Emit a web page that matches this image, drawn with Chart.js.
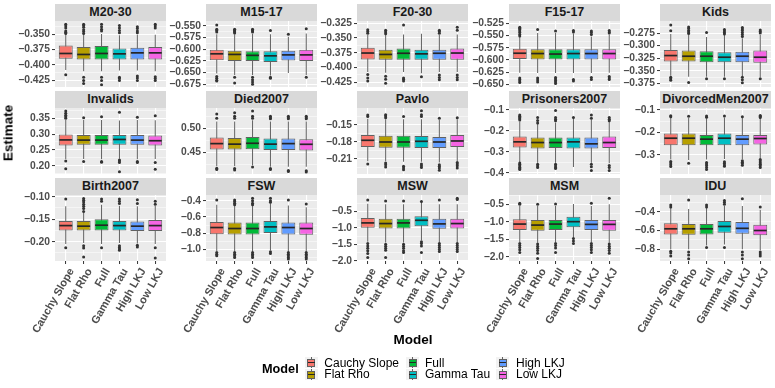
<!DOCTYPE html>
<html>
<head>
<meta charset="utf-8">
<script src="https://cdn.jsdelivr.net/npm/chart.js@4.4.0/dist/chart.umd.min.js"></script>
<style>
  body { margin: 0; background: #fff; width: 775px; height: 388px; position: relative; overflow: hidden; font-family: "Liberation Sans", Arial, sans-serif; }
  .strip { position: absolute; height: 17px; line-height: 17px; background: #D9D9D9; color: #1A1A1A; font-weight: bold; font-size: 12.5px; text-align: center; white-space: nowrap; }
  canvas { position: absolute; }
  .title { position: absolute; font-weight: bold; font-size: 13.5px; color: #000; white-space: nowrap; }
  .lg-text { position: absolute; font-size: 12px; color: #000; white-space: nowrap; line-height: 12px; }
  .key { position: absolute; width: 13px; height: 11.6px; background: #F2F2F2; }
</style>
</head>
<body>
<script>
const models = ['Cauchy Slope', 'Flat Rho', 'Full', 'Gamma Tau', 'High LKJ', 'Low LKJ'];
const colors = ['#F8766D', '#B79F00', '#00BA38', '#00BFC4', '#619CFF', '#F564E3'];
const panels = ['M20-30', 'M15-17', 'F20-30', 'F15-17', 'Kids',
  'Invalids', 'Died2007', 'Pavlo', 'Prisoners2007', 'DivorcedMen2007',
  'Birth2007', 'FSW', 'MSW', 'MSM', 'IDU'];

// y axis per panel
const yMin = [-0.4357, -0.6807, -0.4333, -0.6554, -0.3823, 0.1737, 0.4048, -0.2365, -0.4062, -0.3844, -0.2429, -1.144, -2.01, -2.123, -0.9245];
const yMax = [-0.3288, -0.5395, -0.3212, -0.5204, -0.2509, 0.3826, 0.5423, -0.12, -0.0905, -0.0911, -0.0962, -0.3296, 0.0, -0.234, -0.2223];
const yTicks = [
  [-0.425, -0.4, -0.375, -0.35],
  [-0.675, -0.65, -0.625, -0.6, -0.575, -0.55],
  [-0.425, -0.4, -0.375, -0.35, -0.325],
  [-0.65, -0.625, -0.6, -0.575, -0.55, -0.525],
  [-0.375, -0.35, -0.325, -0.3, -0.275],
  [0.2, 0.25, 0.3, 0.35],
  [0.45, 0.5],
  [-0.21, -0.18, -0.15],
  [-0.4, -0.3, -0.2, -0.1],
  [-0.3, -0.2, -0.1],
  [-0.2, -0.15, -0.1],
  [-1.0, -0.8, -0.6, -0.4],
  [-2.0, -1.5, -1.0, -0.5],
  [-2.0, -1.5, -1.0, -0.5],
  [-0.8, -0.6, -0.4]
];
const yDigits = [3, 3, 3, 3, 3, 2, 2, 2, 1, 1, 2, 1, 1, 1, 1];

// box statistics per panel, one value per model
const whiskerLow = [
  [-0.408, -0.410, -0.410, -0.409, -0.409, -0.410],
  [-0.652, -0.655, -0.655, -0.656, -0.651, -0.655],
  [-0.408, -0.409, -0.408, -0.410, -0.408, -0.408],
  [-0.626, -0.627, -0.627, -0.627, -0.627, -0.626],
  [-0.360, -0.362, -0.362, -0.362, -0.361, -0.363],
  [0.221, 0.221, 0.220, 0.222, 0.220, 0.221],
  [0.421, 0.421, 0.423, 0.420, 0.420, 0.420],
  [-0.214, -0.214, -0.215, -0.215, -0.216, -0.214],
  [-0.350, -0.352, -0.352, -0.373, -0.352, -0.355],
  [-0.320, -0.322, -0.320, -0.318, -0.318, -0.316],
  [-0.205, -0.203, -0.205, -0.203, -0.204, -0.205],
  [-1.02, -1.03, -1.03, -1.01, -1.03, -1.03],
  [-1.42, -1.45, -1.45, -1.38, -1.45, -1.45],
  [-1.58, -1.60, -1.58, -1.45, -1.58, -1.60],
  [-0.80, -0.80, -0.76, -0.75, -0.80, -0.81]
];
const boxLow = [
  [-0.390, -0.391, -0.391, -0.391, -0.391, -0.391],
  [-0.6235, -0.625, -0.625, -0.627, -0.624, -0.625],
  [-0.3867, -0.387, -0.387, -0.387, -0.387, -0.387],
  [-0.598, -0.599, -0.599, -0.599, -0.599, -0.599],
  [-0.3315, -0.3315, -0.333, -0.333, -0.333, -0.334],
  [0.2642, 0.266, 0.266, 0.266, 0.266, 0.2642],
  [0.4556, 0.4556, 0.4563, 0.4548, 0.4548, 0.4538],
  [-0.1888, -0.19, -0.19, -0.1905, -0.1905, -0.1888],
  [-0.279, -0.284, -0.282, -0.284, -0.284, -0.2819],
  [-0.2564, -0.2564, -0.2564, -0.2564, -0.2564, -0.2535],
  [-0.1753, -0.1753, -0.1753, -0.1753, -0.1762, -0.1762],
  [-0.8136, -0.8173, -0.8173, -0.797, -0.8173, -0.821],
  [-1.0, -1.02, -1.02, -0.95, -1.03, -1.02],
  [-1.237, -1.26, -1.237, -1.157, -1.237, -1.26],
  [-0.6426, -0.646, -0.6426, -0.625, -0.635, -0.65]
];
const medians = [
  [-0.3814, -0.383, -0.3814, -0.382, -0.3804, -0.3804],
  [-0.6097, -0.611, -0.613, -0.614, -0.612, -0.612],
  [-0.3756, -0.378, -0.376, -0.377, -0.376, -0.3756],
  [-0.5863, -0.587, -0.588, -0.587, -0.587, -0.587],
  [-0.3197, -0.321, -0.321, -0.323, -0.321, -0.323],
  [0.2816, 0.281, 0.281, 0.283, 0.281, 0.279],
  [0.4681, 0.467, 0.4688, 0.467, 0.4681, 0.4667],
  [-0.177, -0.18, -0.18, -0.1788, -0.18, -0.1782],
  [-0.2524, -0.2557, -0.2557, -0.2524, -0.2619, -0.2557],
  [-0.2253, -0.2253, -0.2296, -0.2253, -0.2296, -0.2267],
  [-0.1642, -0.1655, -0.1633, -0.1642, -0.1655, -0.1642],
  [-0.731, -0.7432, -0.7432, -0.723, -0.731, -0.7432],
  [-0.85, -0.87, -0.85, -0.77, -0.88, -0.87],
  [-1.066, -1.095, -1.066, -0.997, -1.075, -1.075],
  [-0.582, -0.582, -0.582, -0.557, -0.577, -0.60]
];
const boxHigh = [
  [-0.3686, -0.3709, -0.3693, -0.3735, -0.372, -0.3709],
  [-0.601, -0.603, -0.604, -0.604, -0.603, -0.601],
  [-0.3667, -0.370, -0.368, -0.370, -0.370, -0.368],
  [-0.577, -0.578, -0.578, -0.578, -0.578, -0.578],
  [-0.3084, -0.3097, -0.311, -0.313, -0.312, -0.3097],
  [0.2987, 0.297, 0.297, 0.297, 0.297, 0.2957],
  [0.4806, 0.48, 0.482, 0.4785, 0.4785, 0.4773],
  [-0.1676, -0.169, -0.169, -0.1694, -0.171, -0.1676],
  [-0.2267, -0.2314, -0.2314, -0.2314, -0.2314, -0.2267],
  [-0.2044, -0.2044, -0.2111, -0.2044, -0.2111, -0.2111],
  [-0.1538, -0.1538, -0.15, -0.1538, -0.1552, -0.1515],
  [-0.6617, -0.67, -0.67, -0.65, -0.67, -0.67],
  [-0.70, -0.72, -0.72, -0.65, -0.72, -0.72],
  [-0.93, -0.95, -0.95, -0.855, -0.95, -0.95],
  [-0.523, -0.53, -0.53, -0.50, -0.51, -0.54]
];
const whiskerHigh = [
  [-0.351, -0.351, -0.350, -0.352, -0.351, -0.351],
  [-0.568, -0.568, -0.567, -0.568, -0.573, -0.566],
  [-0.345, -0.345, -0.344, -0.343, -0.345, -0.344],
  [-0.553, -0.545, -0.545, -0.546, -0.552, -0.548],
  [-0.277, -0.278, -0.283, -0.279, -0.285, -0.279],
  [0.345, 0.345, 0.345, 0.343, 0.345, 0.344],
  [0.514, 0.514, 0.517, 0.514, 0.514, 0.514],
  [-0.139, -0.140, -0.140, -0.140, -0.141, -0.140],
  [-0.155, -0.165, -0.160, -0.140, -0.145, -0.158],
  [-0.135, -0.135, -0.137, -0.133, -0.136, -0.136],
  [-0.121, -0.136, -0.118, -0.120, -0.121, -0.120],
  [-0.45, -0.46, -0.46, -0.43, -0.46, -0.48],
  [-0.27, -0.28, -0.28, -0.22, -0.28, -0.28],
  [-0.55, -0.55, -0.55, -0.49, -0.55, -0.50],
  [-0.36, -0.37, -0.36, -0.34, -0.34, -0.38]
];
const outliers = [
  [[-0.334, -0.337, -0.340, -0.345, -0.347, -0.349, -0.416],
   [-0.334, -0.336, -0.339, -0.343, -0.346, -0.349, -0.420, -0.425, -0.430],
   [-0.334, -0.338, -0.342, -0.345, -0.420, -0.425, -0.432],
   [-0.336, -0.340, -0.344, -0.348, -0.420, -0.422, -0.425],
   [-0.338, -0.341, -0.345, -0.348, -0.418, -0.421, -0.425],
   [-0.334, -0.337, -0.340, -0.419, -0.422, -0.425]],
  [[-0.548, -0.557, -0.560, -0.563, -0.658, -0.662, -0.666, -0.668],
   [-0.557, -0.559, -0.561, -0.563, -0.565, -0.660, -0.672],
   [-0.557, -0.559, -0.561, -0.563, -0.660, -0.665, -0.670, -0.675],
   [-0.560, -0.660, -0.662],
   [-0.568],
   [-0.556, -0.660]],
  [[-0.336, -0.339, -0.342, -0.412, -0.418, -0.423],
   [-0.337, -0.340, -0.343, -0.415, -0.420, -0.427],
   [-0.328, -0.418, -0.420, -0.423],
   [-0.416],
   [-0.337, -0.339, -0.342, -0.413, -0.417, -0.421],
   [-0.332, -0.337, -0.413, -0.417, -0.421]],
  [[-0.533, -0.535, -0.538, -0.541, -0.544, -0.548, -0.551, -0.637, -0.640, -0.643, -0.646],
   [-0.538, -0.637, -0.641, -0.645],
   [-0.541, -0.636, -0.639, -0.642, -0.645, -0.648],
   [-0.540, -0.543, -0.640, -0.643],
   [-0.541, -0.544, -0.548, -0.636, -0.640],
   [-0.540, -0.543, -0.545, -0.634, -0.637, -0.640]],
  [[-0.259, -0.2705, -0.363, -0.366, -0.369],
   [-0.263, -0.266, -0.270, -0.273, -0.276, -0.3735],
   [-0.274, -0.366],
   [-0.268, -0.271, -0.274, -0.277, -0.366],
   [-0.264, -0.267, -0.270, -0.274, -0.278, -0.282, -0.363, -0.368, -0.374],
   [-0.269, -0.272, -0.275, -0.366]],
  [[0.350, 0.355, 0.360, 0.366, 0.373, 0.2146, 0.1905],
   [0.352, 0.213],
   [0.355, 0.213, 0.211],
   [0.369, 0.218, 0.215, 0.210, 0.181],
   [0.353, 0.213, 0.210],
   [0.358, 0.210, 0.189]],
  [[0.5298, 0.521, 0.4167, 0.414],
   [0.5325, 0.525, 0.521, 0.416, 0.413],
   [0.536, 0.525, 0.521, 0.4194],
   [0.525, 0.522, 0.520, 0.416, 0.414],
   [0.525, 0.522, 0.520, 0.412, 0.410],
   [0.525, 0.522, 0.520, 0.4115, 0.409]],
  [[-0.1324, -0.135, -0.2188],
   [-0.132, -0.134, -0.137, -0.217, -0.220, -0.224],
   [-0.135, -0.223, -0.226, -0.229],
   [-0.125, -0.132, -0.135, -0.219, -0.222, -0.225],
   [-0.138, -0.220, -0.223, -0.226, -0.230],
   [-0.137, -0.216, -0.219, -0.222, -0.226]],
  [[-0.124, -0.130, -0.136, -0.142, -0.148, -0.353, -0.360, -0.367, -0.374, -0.380, -0.385],
   [-0.136, -0.150, -0.162, -0.360, -0.368, -0.375],
   [-0.103, -0.136, -0.144, -0.152, -0.360, -0.368, -0.375, -0.380],
   [-0.136],
   [-0.124, -0.140, -0.360, -0.372, -0.390],
   [-0.136, -0.144, -0.152, -0.365, -0.375, -0.390]],
  [[-0.125, -0.1297, -0.329, -0.336, -0.343, -0.351],
   [-0.128, -0.337],
   [-0.127, -0.132, -0.333, -0.340, -0.347, -0.355, -0.364],
   [-0.127, -0.330, -0.337, -0.344, -0.350],
   [-0.130, -0.325, -0.332, -0.338, -0.345],
   [-0.124, -0.128, -0.133, -0.320, -0.327, -0.334, -0.341, -0.348, -0.355]],
  [[-0.105, -0.2133],
   [-0.104, -0.108, -0.112, -0.117, -0.121, -0.126, -0.133, -0.209, -0.214, -0.234],
   [-0.105, -0.110, -0.2133],
   [-0.105, -0.110, -0.115, -0.209, -0.213, -0.216, -0.219],
   [-0.107, -0.115, -0.208, -0.212],
   [-0.110, -0.117, -0.2133, -0.236]],
  [[-0.391, -1.04, -1.06, -1.08],
   [-0.39, -0.41, -0.43, -0.45, -1.04, -1.06, -1.08, -1.10],
   [-0.37, -0.40, -0.43, -0.45, -1.04, -1.06, -1.08, -1.10],
   [-0.37, -0.40, -0.42, -1.03, -1.05],
   [-0.39, -1.04, -1.06, -1.08, -1.10, -1.12],
   [-0.44, -1.04, -1.06, -1.08, -1.10, -1.12]],
  [[-0.15, -1.48, -1.55, -1.62, -1.70, -1.78, -1.90],
   [-0.18, -1.50, -1.56, -1.62, -1.68, -1.90],
   [-0.18, -1.50, -1.56, -1.62, -1.70, -1.75],
   [-0.20, -1.42, -1.48, -1.55, -1.75],
   [-0.15, -1.48, -1.54, -1.60, -1.66, -1.72],
   [-0.10, -0.14, -1.48, -1.54, -1.60, -1.66, -1.72]],
  [[-0.47, -0.50, -1.62, -1.68, -1.74, -1.80, -1.88],
   [-0.50, -1.64, -1.70, -1.76, -1.82, -1.90, -2.05],
   [-0.49, -1.62, -1.68, -1.75, -1.88],
   [-1.48, -1.55, -1.62],
   [-0.47, -1.62, -1.68, -1.74, -1.80, -1.88],
   [-0.33, -1.64, -1.70, -1.76, -1.82, -1.90]],
  [[-0.33, -0.35, -0.82, -0.84, -0.87],
   [-0.276, -0.83, -0.86, -0.90],
   [-0.33, -0.35, -0.78],
   [-0.28, -0.30, -0.32, -0.78],
   [-0.262, -0.83, -0.86, -0.90],
   [-0.35, -0.83, -0.85, -0.87]]
];

// layout
const colLeft = [55, 206, 357, 509, 660];
const rowTop = [4, 91, 178];
const PW = 111, STRIP = 17, PH = 66, AXW = 55, XH = 78, PAD = 6;
const FONT = '"Liberation Sans", Arial, sans-serif';
const LINE = '#616161';

const panelBg = {
  id: 'panelBg',
  beforeDraw(chart) {
    const a = chart.chartArea, ctx = chart.ctx;
    ctx.save();
    ctx.fillStyle = '#EBEBEB';
    ctx.fillRect(a.left, a.top, a.right - a.left, a.bottom - a.top);
    ctx.restore();
  }
};

const medianLines = {
  id: 'medianLines',
  afterDatasetsDraw(chart, args, opts) {
    const meta = chart.getDatasetMeta(1);
    const y = chart.scales.y, ctx = chart.ctx;
    ctx.save();
    ctx.strokeStyle = '#262626';
    ctx.lineWidth = 1.7;
    meta.data.forEach((bar, i) => {
      const py = y.getPixelForValue(opts.values[i]);
      ctx.beginPath();
      ctx.moveTo(bar.x - bar.width / 2 + 0.5, py);
      ctx.lineTo(bar.x + bar.width / 2 - 0.5, py);
      ctx.stroke();
    });
    ctx.restore();
  }
};

function fmt(v, d) {
  return v.toFixed(d).replace('-', '\u2212');
}

panels.forEach((name, p) => {
  const col = p % 5, row = Math.floor(p / 5);
  const bottomRow = row === 2;

  const strip = document.createElement('div');
  strip.className = 'strip';
  strip.style.left = colLeft[col] + 'px';
  strip.style.top = rowTop[row] + 'px';
  strip.style.width = PW + 'px';
  strip.textContent = name;
  document.body.appendChild(strip);

  const cv = document.createElement('canvas');
  const w = AXW + PW, h = PAD + PH + (bottomRow ? XH : PAD);
  cv.width = w; cv.height = h;
  cv.style.left = (colLeft[col] - AXW) + 'px';
  cv.style.top = (rowTop[row] + STRIP - PAD) + 'px';
  cv.style.width = w + 'px'; cv.style.height = h + 'px';
  document.body.appendChild(cv);

  const majors = yTicks[p];
  const step = majors[1] - majors[0];
  const minors = [majors[0] - step / 2].concat(majors.map(v => v + step / 2));
  const gridVals = majors.concat(minors)
    .map(v => +v.toFixed(6))
    .filter(v => v >= yMin[p] && v <= yMax[p])
    .sort((a, b) => a - b);
  const isMajor = v => majors.some(m => Math.abs(m - v) < 1e-6);

  const xs = models.map((m, i) => i);
  const pts = [];
  outliers[p].forEach((arr, i) => arr.forEach(v => pts.push({ x: i, y: v })));

  new Chart(cv, {
    type: 'bar',
    data: {
      datasets: [
        {
          type: 'scatter', data: pts, order: 0,
          pointRadius: 1.5, pointBackgroundColor: '#333333', pointBorderWidth: 0
        },
        {
          data: xs.map(i => ({ x: i, y: [boxLow[p][i], boxHigh[p][i]] })), order: 1,
          backgroundColor: colors, borderColor: LINE, borderWidth: 1, borderSkipped: false,
          grouped: false, barPercentage: 0.78, categoryPercentage: 1
        },
        {
          data: xs.map(i => ({ x: i, y: [whiskerLow[p][i], whiskerHigh[p][i]] })), order: 2,
          backgroundColor: LINE, grouped: false, maxBarThickness: 1
        }
      ]
    },
    options: {
      responsive: false,
      animation: false,
      events: [],
      layout: { autoPadding: false, padding: { top: PAD, bottom: bottomRow ? 0 : PAD, left: 0, right: 0 } },
      plugins: { legend: { display: false }, tooltip: { enabled: false }, medianLines: { values: medians[p] } },
      scales: {
        x: {
          type: 'linear', min: -0.6, max: 5.6, offset: false,
          afterBuildTicks: s => { s.ticks = xs.map(v => ({ value: v })); },
          afterFit: s => { s.height = bottomRow ? XH : 0; s.paddingLeft = 0; s.paddingRight = 0; },
          ticks: {
            display: bottomRow, autoSkip: false, minRotation: 60, maxRotation: 60, padding: 2, labelOffset: 6,
            callback: v => models[v], color: '#4D4D4D', font: { family: FONT, size: 11, weight: 'bold' }
          },
          grid: { color: '#FFFFFF', lineWidth: 1.1, offset: false, drawTicks: bottomRow, tickLength: 3, tickColor: '#333333', tickWidth: 1 },
          border: { display: false }
        },
        y: {
          min: yMin[p], max: yMax[p],
          afterBuildTicks: s => { s.ticks = gridVals.map(v => ({ value: v })); },
          afterFit: s => { s.width = AXW; s.paddingTop = 0; s.paddingBottom = 0; },
          ticks: {
            autoSkip: false, padding: 2, color: '#4D4D4D', font: { family: FONT, size: 10.3, weight: 'bold' },
            callback: v => isMajor(v) ? fmt(v, yDigits[p]) : ''
          },
          grid: {
            color: '#FFFFFF', tickLength: 3, tickWidth: 1,
            lineWidth: c => (c.tick && isMajor(c.tick.value)) ? 1.1 : 0.5,
            tickColor: c => (c.tick && isMajor(c.tick.value)) ? '#333333' : 'rgba(0,0,0,0)'
          },
          border: { display: false }
        }
      }
    },
    plugins: [panelBg, medianLines]
  });
});

// axis titles
function addText(cls, text, css) {
  const d = document.createElement('div');
  d.className = cls;
  d.textContent = text;
  Object.assign(d.style, css);
  document.body.appendChild(d);
  return d;
}
addText('title', 'Estimate', { left: '7.5px', top: '133px', transform: 'translate(-50%,-50%) rotate(-90deg)' });
addText('title', 'Model', { left: '413px', top: '339px', transform: 'translate(-50%,-50%)' });

// legend
addText('title', 'Model', { left: '262px', top: '368.7px', fontSize: '12.7px', transform: 'translateY(-50%)' });
const keyCx = [311.3, 412.7, 502.7];
const textX = [324.3, 425, 516];
const rowCy = [362.7, 374.3];
models.forEach((m, i) => {
  const c = Math.floor(i / 2), r = i % 2;
  const key = document.createElement('div');
  key.className = 'key';
  key.style.left = (keyCx[c] - 6.5) + 'px';
  key.style.top = (rowCy[r] - 5.8) + 'px';
  key.innerHTML =
    '<div style="position:absolute;left:6px;top:0;width:1px;height:11.6px;background:' + LINE + '"></div>' +
    '<div style="position:absolute;left:2.5px;top:2.5px;width:6px;height:5.6px;border:1px solid ' + LINE + ';background:' + colors[i] + '"></div>' +
    '<div style="position:absolute;left:3px;top:5.3px;width:7px;height:1px;background:#262626"></div>';
  document.body.appendChild(key);
  addText('lg-text', m, { left: textX[c] + 'px', top: (rowCy[r] - 6) + 'px' });
});
</script>
</body>
</html>
